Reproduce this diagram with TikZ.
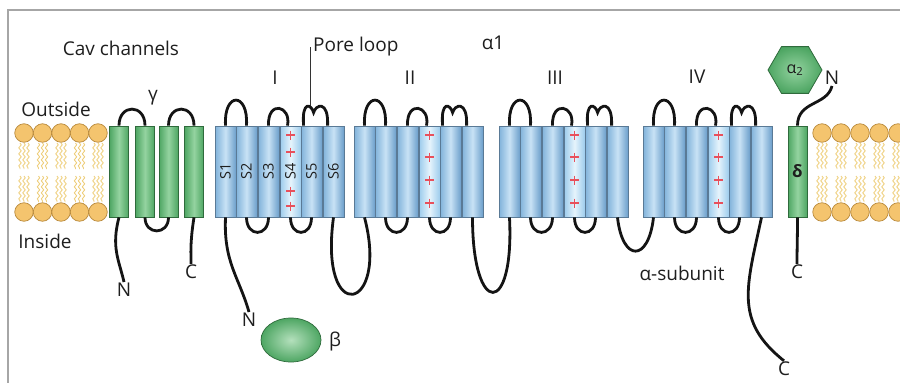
\documentclass[tikz,border=0pt]{standalone}
\usepackage{fontspec}
\setmainfont{Open Sans}
\usetikzlibrary{shapes.geometric,decorations.pathmorphing}

\definecolor{hxline}{HTML}{5A7A96}
\definecolor{hxside}{HTML}{80B2DA}
\definecolor{hxmid}{HTML}{C8E2F5}
\definecolor{hxdark}{HTML}{6C9FCB}
\definecolor{vsside}{HTML}{9CCBEC}
\definecolor{vsmid}{HTML}{E6F4FC}
\definecolor{ghline}{HTML}{2F6B3C}
\definecolor{ghside}{HTML}{4EA663}
\definecolor{ghmid}{HTML}{94D3A0}
\definecolor{headfill}{HTML}{F4C46E}
\definecolor{headline}{HTML}{B98A3C}
\definecolor{tailcol}{HTML}{EECF7E}
\definecolor{plusred}{HTML}{E8505C}
\definecolor{txt}{HTML}{1E1E1E}

\begin{document}
\begin{tikzpicture}[x=1pt, y=-1pt,
		hx/.style = {rectangle, draw=hxline, line width=0.8pt, left color=hxside, right color=hxdark, middle color=hxmid, minimum width=21, minimum height=91, inner sep=0},
		vs/.style = {hx, left color=vsside, right color=vsside, middle color=vsmid},
		gh/.style = {rectangle, draw=ghline, line width=0.8pt, left color=ghside, right color=ghside, middle color=ghmid, minimum width=19, minimum height=91, inner sep=0},
		ch/.style = {line width=2.8pt, black!92},
		lbl/.style = {text=txt, font=\fontsize{19}{21}\selectfont, inner sep=1},
		slbl/.style = {text=txt, font=\fontsize{14.5}{15}\selectfont, rotate=90, inner sep=0},
		pls/.style = {plusred, line width=1.8pt},
		head/.style = {circle, fill=headfill, draw=headline, line width=0.7pt, minimum size=18.5, inner sep=0},
		tail/.style = {tailcol, line width=0.9pt, decorate, decoration={snake, segment length=6pt, amplitude=1.2pt}},
		]
		\useasboundingbox (0,0) rectangle (900,383);
		\draw[gray!70, line width=1.2pt] (8,383) -- (8,10) -- (900,10);

		%Membrane
		\foreach \hp in {24,42.5,61,79.5,98,822,841,860,879,898} {
			\foreach \dx in {-4,0,4} {
				\draw[tail] ({\hp+\dx},143) -- ({\hp+\dx},169);
				\draw[tail] ({\hp+\dx},176) -- ({\hp+\dx},202);
			}
			\node[head] at (\hp,133) {};
			\node[head] at (\hp,212) {};
		}

		%Gamma and delta helices
		\node[gh]	(g1)	at	(119,171.5)	{};
		\node[gh]	(g2)	at	(145,171.5)	{};
		\node[gh]	(g3)	at	(168.5,171.5)	{};
		\node[gh]	(g4)	at	(194,171.5)	{};
		\node[gh, text=txt, font=\bfseries\fontsize{17}{17}\selectfont]	(dl)	at	(797.5,171.5)	{δ};

		%Domains I-IV
		\foreach \d/\x in {1/215,2/354,3/499,4/643} {
			\foreach \k/\o in {1/0,2/21,3/43,5/86,6/108}
				\node[hx] (s\d\k) at ({\x+\o+10.5},171.5) {};
			\node[vs] (s\d4) at ({\x+75.5},171.5) {};
		}
		% charges on S4
		\foreach \d in {2,3,4}
			\foreach \py in {135,157,180,203}
				\draw[pls] (s\d4 |- 0,\py) ++(-4.5,0) -- ++(9,0) ++(-4.5,-4.5) -- ++(0,9);
		\foreach \py in {135,152,191,206}
			\draw[pls] (s14 |- 0,\py) ++(-4.5,0) -- ++(9,0) ++(-4.5,-4.5) -- ++(0,9);
		\foreach \k in {1,...,6}
			\node[slbl] at (s1\k) {S\k};

		%Labels
		\node[lbl]	(cav)	at	(121,48)	{Cav channels};
		\node[lbl]	(gam)	at	(153,98)	{γ};
		\node[lbl]	(outs)	at	(56,109)	{Outside};
		\node[lbl]	(ins)	at	(45,241)	{Inside};
		\node[lbl]	(ng)	at	(124,290)	{N};
		\node[lbl]	(cg)	at	(191,272)	{C};
		\node[lbl]	(dI)	at	(275,78)	{I};
		\node[lbl]	(dII)	at	(410,78)	{II};
		\node[lbl]	(dIII)	at	(555,78)	{III};
		\node[lbl]	(dIV)	at	(697,77)	{IV};
		\node[lbl, anchor=west]	(pl)	at	(312,47)	{Pore loop};
		\node[lbl]	(a1)	at	(493,43)	{α1};
		\node[regular polygon, regular polygon sides=6, minimum size=54, inner sep=0, draw=ghline, line width=0.8pt, inner color=ghmid, outer color=ghside, text=txt, font=\fontsize{16}{16}\selectfont]	(a2)	at	(795,70)	{α\textsubscript{2}};
		\node[lbl]	(nd)	at	(832,78)	{N};
		\node[lbl]	(cd)	at	(797,272)	{C};
		\node[lbl]	(asub)	at	(682,273)	{α-subunit};
		\node[lbl]	(ca)	at	(784,369)	{C};
		\node[lbl]	(nI)	at	(249,320)	{N};
		\node[ellipse, minimum width=60, minimum height=44, draw=ghline, line width=0.7pt, inner color=ghmid!70!white, outer color=ghside]	(beta)	at	(291,340)	{};
		\node[lbl]	(bl)	at	(335,342)	{β};
		\coordinate (ptip) at (310,107);
		\draw[black!80, line width=0.8pt] (ptip) -- (ptip |- pl.west);

		%Gamma loops
		\draw[ch]	(g1.north) .. controls +(0,-22) and +(0,-22) .. (g2.north);
		\draw[ch]	(g3.north) .. controls +(0,-22) and +(0,-22) .. (g4.north);
		\draw[ch]	(g2.south) .. controls +(0,18) and +(0,18) .. (g3.south);
		\draw[ch]	(g1.south) .. controls +(-8,30) and +(-5,-22) .. (ng.north);
		\draw[ch]	(g4.south) .. controls +(-4,25) and +(0,-10) .. (cg.north);

		%Domain loops
		\foreach \d in {1,...,4} {
			\draw[ch] (s\d1.north) .. controls +(-2,-34) and +(2,-34) .. (s\d2.north);
			\draw[ch] (s\d3.north) .. controls +(-1,-26) and +(4,-20) .. ([xshift=-3pt]s\d4.north);
			\draw[ch] ([xshift=3pt]s\d5.north west) .. controls +(-2,-26) and +(-2,-8) .. ++(10,-13)
				.. controls +(2,-8) and +(1,-26) .. ([xshift=5pt]s\d6.north west);
			\draw[ch] (s\d2.south) .. controls +(0,20) and +(0,20) .. (s\d3.south);
			\draw[ch] (s\d4.south) .. controls +(0,20) and +(0,20) .. (s\d5.south);
		}

		%Linkers and tails
		\draw[ch]	(s11.south) .. controls +(-2,45) and +(-10,-35) .. (nI.north);
		\draw[ch]	(s16.south) .. controls +(-15,110) and +(25,95) .. (s21.south);
		\draw[ch]	(s26.south) .. controls +(0,100) and +(5,100) .. (s31.south);
		\draw[ch]	(s36.south) .. controls +(5,45) and +(-5,45) .. (s41.south);
		\draw[ch]	(s46.south) .. controls +(-15,70) and +(-50,-40) .. (ca.north);
		\draw[ch]	(dl.north) .. controls +(0,-25) and +(-5,20) .. (nd.south);
		\draw[ch]	(dl.south) .. controls +(0,20) and +(0,-15) .. (cd.north);

	\end{tikzpicture}
\end{document}
